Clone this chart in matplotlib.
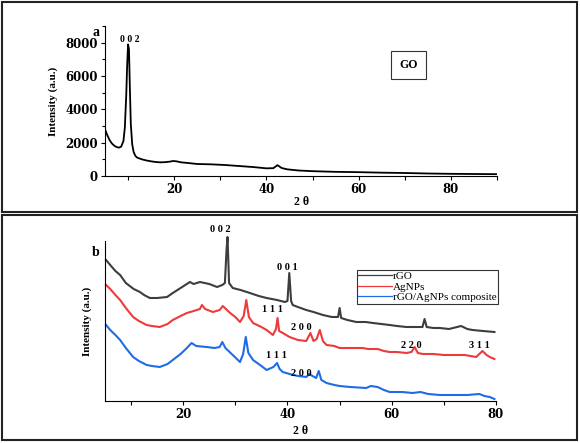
import matplotlib
matplotlib.use('Agg')
import matplotlib.pyplot as plt
from matplotlib.patches import Rectangle
from matplotlib.ticker import MultipleLocator

# ---- panel a : GO ----
go_x = [5, 5.5, 6, 6.5, 7, 7.5, 8, 8.5, 9, 9.3, 9.6, 9.8, 10, 10.2, 10.4, 10.6, 10.9,
        11.2, 11.6, 12, 13, 14, 15, 16, 17, 18, 19, 19.8, 20.5, 21.5, 23, 25, 28, 31,
        34, 37, 40, 41.5, 42.4, 43.3, 44.5, 47, 50, 55, 60, 65, 70, 75, 80, 85, 90]
go_y = [2800, 2450, 2150, 1950, 1820, 1740, 1700, 1760, 2100, 2900, 4800, 6600, 7900,
        7600, 5200, 3100, 1900, 1450, 1200, 1100, 1000, 930, 880, 840, 820, 830, 860,
        900, 880, 820, 780, 720, 700, 660, 600, 540, 460, 470, 650, 480, 400, 330, 290,
        250, 230, 200, 180, 150, 130, 120, 110]

# ---- panel b : rGO, AgNPs, composite (arbitrary units) ----
rgo_x = [5.2, 6, 7, 7.9, 9, 10.5, 11.7, 12.5, 13.6, 15, 16.9, 18, 19.5, 21.3, 22, 23.2,
         25, 26.5, 27.5, 28.0, 28.3, 28.5, 28.8, 29.5, 31, 32.8, 34.5, 36, 38, 39.5,
         40.0, 40.35, 40.7, 41, 42, 43.6, 45, 46.8, 48.5, 49.7, 50, 50.3, 51.5, 53.2,
         55, 56.4, 58, 59.6, 61, 62.8, 64.5, 65.9, 66.3, 66.7, 68, 69.2, 71, 73.3, 74.5,
         75.5, 77.5, 79.7]
rgo_y = [141, 136, 130, 126, 118, 112, 109, 106, 103, 103, 104, 108, 113, 119, 117, 119,
         117, 114, 116, 118, 150, 164, 118, 113, 111, 108, 105, 103, 101, 99, 100, 128,
         100, 96, 94, 91, 89, 86, 84, 84, 93, 83, 81, 79, 79, 78, 77, 76, 75, 74, 74, 74,
         82, 74, 73, 73, 72, 75, 72, 71, 70, 69]

ag_x = [5.2, 6, 7, 7.9, 9, 10.4, 11.5, 13, 14, 15.5, 17, 18, 19.5, 20.7, 22, 23.2, 23.6,
        24.2, 25.7, 27, 27.6, 28.2, 29, 30, 30.9, 31.6, 32.1, 32.6, 33.4, 35, 36, 37.2,
        37.8, 38.1, 38.4, 39.1, 40.4, 42, 43.6, 44.4, 45.0, 45.6, 46.2, 46.8, 47.5, 49,
        50, 52, 54.4, 55.5, 57.3, 58.5, 59.6, 61, 62.8, 63.8, 64.4, 65, 66, 68, 70, 72.4,
        74, 76.2, 77.4, 78.2, 78.8, 79.7]
ag_y = [116, 112, 106, 101, 93, 84, 80, 76, 75, 74, 77, 81, 85, 88, 90, 92, 96, 92, 89,
        91, 95, 92, 88, 84, 79, 85, 101, 84, 78, 74, 71, 66, 72, 83, 70, 68, 64, 61, 60,
        68, 60, 62, 71, 60, 56, 55, 53, 53, 53, 52, 52, 50, 49, 49, 48, 49, 54, 48, 47,
        47, 46, 46, 46, 44, 50, 46, 44, 42]

comp_x = [5.2, 6, 7, 7.9, 9, 10.4, 11.5, 13, 14, 15.5, 17, 18, 19.5, 20.7, 21.6, 22.5,
          24.5, 26, 27, 27.5, 28.1, 29.5, 30.9, 31.5, 32.0, 32.5, 33.4, 35, 36, 37.3,
          38.0, 38.5, 39.1, 40.4, 42, 43.6, 44.2, 44.8, 45.5, 46.0, 46.5, 47.5, 49, 50,
          52, 55.1, 56, 57.3, 58.5, 59.6, 62, 64, 65.5, 67, 69.2, 72, 74.5, 76.8, 77.8,
          78.8, 79.7]
comp_y = [76, 71, 66, 61, 53, 44, 40, 36, 35, 34, 37, 41, 47, 53, 58, 55, 54, 53, 54, 59,
          53, 46, 39, 47, 64, 48, 41, 35, 31, 34, 38, 32, 29, 27, 25, 24, 27, 25, 23, 30,
          21, 18, 16, 15, 14, 13, 15, 14, 11, 9, 9, 8, 9, 7, 6, 6, 6, 7, 5, 4, 2]

# peak labels for panel b: (text, x, y)
peaks_b = [('0 0 2', 27.2, 171), ('0 0 1', 39.9, 134), ('1 1 1', 37.2, 91),
           ('2 0 0', 42.7, 73), ('2 2 0', 63.7, 56), ('3 1 1', 76.8, 55),
           ('1 1 1', 37.9, 45), ('2 0 0', 42.7, 27)]

serif = 'DejaVu Serif'
tnr = 'Liberation Serif'

fig = plt.figure(figsize=(5.8, 4.43), dpi=100)

# frames around the two panels
fig.add_artist(Rectangle((2/580, 1-212/443), 575/580, 210/443, transform=fig.transFigure,
                         fill=False, lw=1.5, ec='#222222'))
fig.add_artist(Rectangle((2/580, 1-440/443), 575/580, 225/443, transform=fig.transFigure,
                         fill=False, lw=1.5, ec='#222222'))

ax1 = fig.add_axes([105/580, 1-176/443, 392/580, 150/443])
ax2 = fig.add_axes([105/580, 1-401/443, 391/580, 160/443])

for ax in (ax1, ax2):
    ax.spines['top'].set_visible(False)
    ax.spines['right'].set_visible(False)
    ax.xaxis.set_major_locator(MultipleLocator(20))
    ax.xaxis.set_minor_locator(MultipleLocator(10))
    ax.tick_params(axis='x', which='major', length=3, width=0.8, pad=2)
    ax.tick_params(axis='x', which='minor', length=3, width=0.8)
    for lab in ax.get_xticklabels():
        lab.set_fontfamily(serif)
        lab.set_fontweight('bold')
        lab.set_fontsize(8.5)

# panel a
ax1.plot(go_x, go_y, color='black', lw=1.3)
ax1.set_xlim(5, 90)
ax1.set_ylim(0, 9000)
ax1.yaxis.set_major_locator(MultipleLocator(2000))
ax1.yaxis.set_minor_locator(MultipleLocator(1000))
ax1.tick_params(axis='y', which='major', length=3, width=0.8, pad=2)
ax1.tick_params(axis='y', which='minor', length=2, width=0.8)
for lab in ax1.get_yticklabels():
    lab.set_fontfamily(serif)
    lab.set_fontweight('bold')
    lab.set_fontsize(8.5)
ax1.set_ylabel('Intensity (a.u.)', family=tnr, fontweight='bold', fontsize=8, labelpad=5)
ax1.set_xlabel('2 θ', family=tnr, fontweight='bold', fontsize=8.5, labelpad=0)
ax1.text(10.3, 8200, '0 0 2', family=tnr, fontweight='bold', fontsize=7,
         ha='center', va='center')
ax1.text(-0.015, 1.0, 'a', transform=ax1.transAxes, family=tnr, fontweight='bold',
         fontsize=10, ha='right', va='top')
ax1.text(0.775, 0.74, 'GO', transform=ax1.transAxes, family=tnr, fontweight='bold',
         fontsize=8.5, ha='center', va='center',
         bbox=dict(boxstyle='square,pad=0.7', fc='white', ec='#333333', lw=0.8))

# panel b
ax2.plot(rgo_x, rgo_y, color='#3d3d3d', lw=1.5, label='rGO', clip_on=False)
ax2.plot(ag_x, ag_y, color='#ee3a3a', lw=1.5, label='AgNPs', clip_on=False)
ax2.plot(comp_x, comp_y, color='#1e6de6', lw=1.5, label='rGO/AgNPs composite',
         clip_on=False)
ax2.set_xlim(5, 80)
ax2.set_ylim(0, 160)
ax2.set_yticks([])
ax2.set_ylabel('Intensity (a.u.)', family=tnr, fontweight='bold', fontsize=8, labelpad=9)
ax2.set_xlabel('2 θ', family=tnr, fontweight='bold', fontsize=8.5, labelpad=3)
for txt, px, py in peaks_b:
    ax2.text(px, py, txt, family=tnr, fontweight='bold', fontsize=7.5,
             ha='center', va='center')
ax2.text(-0.015, 0.97, 'b', transform=ax2.transAxes, family=tnr, fontweight='bold',
         fontsize=10, ha='right', va='top')
leg = ax2.legend(loc='upper right', bbox_to_anchor=(1.005, 0.82), prop={'family': tnr, 'size': 8},
                 frameon=True, fancybox=False, edgecolor='#333333', framealpha=1,
                 handlelength=3.0, handletextpad=0.1, borderpad=0.15, labelspacing=0.05,
                 borderaxespad=0)
leg.get_frame().set_linewidth(0.8)
for line in leg.get_lines():
    line.set_linewidth(0.9)

fig.savefig('out.png', dpi=100)
